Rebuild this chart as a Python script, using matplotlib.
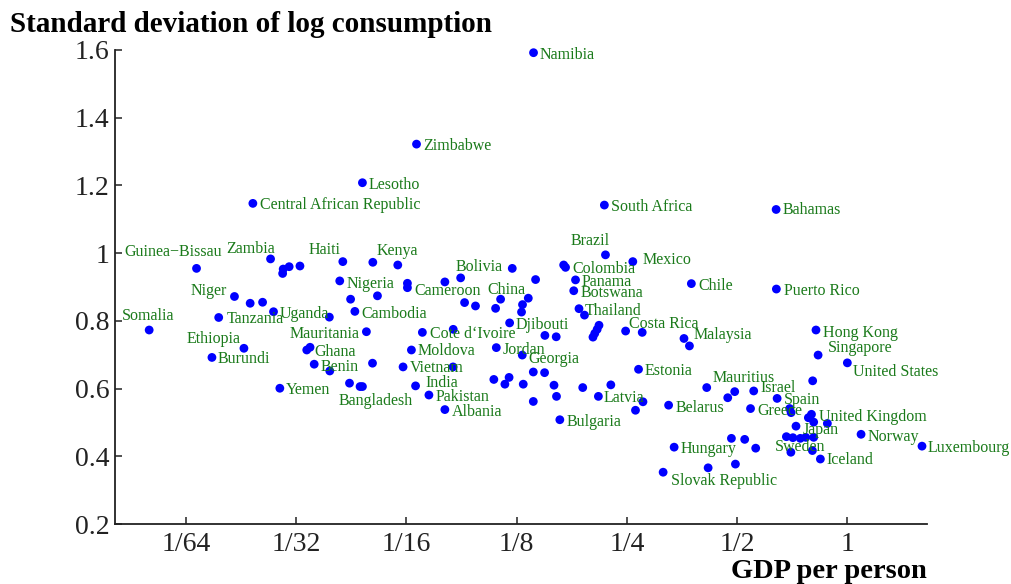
import matplotlib
matplotlib.use("Agg")
import matplotlib.pyplot as plt
from matplotlib.ticker import FixedLocator, FixedFormatter, NullLocator

plt.rcParams['font.family'] = ['Liberation Serif', 'DejaVu Serif']

# countries with a label, GDP per person relative to the US, std dev of log consumption
labeled = ["Namibia", "Zimbabwe", "Lesotho", "Central African Republic", "South Africa",
           "Bahamas", "Brazil", "Mexico", "Colombia", "Guinea\u2212Bissau", "Zambia", "Haiti",
           "Kenya", "Bolivia", "Panama", "Chile", "Puerto Rico", "Cameroon", "Nigeria",
           "Botswana", "China", "Niger", "Thailand", "Cambodia", "Uganda", "Tanzania",
           "Djibouti", "Costa Rica", "Hong Kong", "Somalia", "Mauritania", "Cote d\u2018Ivoire",
           "Malaysia", "Ethiopia", "Ghana", "Jordan", "Moldova", "Singapore", "Georgia",
           "Burundi", "United States", "Benin", "Vietnam", "Estonia", "India", "Mauritius",
           "Yemen", "Israel", "Bangladesh", "Pakistan", "Latvia", "Spain", "Belarus", "Greece",
           "Albania", "United Kingdom", "Bulgaria", "Japan", "Norway", "Luxembourg", "Hungary",
           "Sweden", "Iceland", "Slovak Republic"]
labeled_gdp = [0.139, 0.0666, 0.0474, 0.0238, 0.217,
               0.639, 0.2185, 0.2595, 0.168, 0.0167, 0.0266, 0.0419,
               0.0506, 0.0879, 0.181, 0.375, 0.640, 0.0629, 0.0411,
               0.179, 0.113, 0.0212, 0.185, 0.0452, 0.0271, 0.0192,
               0.1196, 0.248, 0.821, 0.0124, 0.0486, 0.0691,
               0.358, 0.0225, 0.0341, 0.110, 0.0645, 0.832, 0.1295,
               0.0184, 1.0, 0.0350, 0.0612, 0.269, 0.0662, 0.413,
               0.0282, 0.555, 0.0467, 0.0720, 0.209, 0.643, 0.325, 0.544,
               0.0796, 0.798, 0.164, 0.724, 1.090, 1.599, 0.3365,
               0.744, 0.844, 0.314]
labeled_sd = [1.592, 1.322, 1.208, 1.147, 1.142,
              1.129, 0.995, 0.975, 0.965, 0.955, 0.983, 0.975,
              0.973, 0.927, 0.921, 0.910, 0.894, 0.898, 0.918,
              0.889, 0.864, 0.872, 0.836, 0.828, 0.827, 0.810,
              0.794, 0.770, 0.773, 0.773, 0.768, 0.766,
              0.748, 0.719, 0.722, 0.721, 0.714, 0.699, 0.699,
              0.692, 0.676, 0.672, 0.664, 0.657, 0.608, 0.603,
              0.601, 0.593, 0.606, 0.581, 0.577, 0.571, 0.551, 0.541,
              0.538, 0.524, 0.508, 0.489, 0.465, 0.430, 0.427,
              0.453, 0.392, 0.353]

# countries drawn without a label
other_gdp = [0.170, 0.0288, 0.0287, 0.0299, 0.0320, 0.0592, 0.0796, 0.1216, 0.1408,
             0.0440, 0.0521, 0.0234, 0.0253, 0.0385, 0.0901, 0.0965, 0.1095, 0.1345,
             0.1297, 0.1289, 0.0839, 0.1493, 0.1603, 0.1915, 0.2098, 0.2074, 0.2043,
             0.2020, 0.2753, 0.0386, 0.0505, 0.0838, 0.1388, 0.1490, 0.1083, 0.1192,
             0.1161, 0.1303, 0.1581, 0.1894, 0.2260, 0.1388, 0.1606, 0.2639, 0.2766,
             0.8041, 0.4714, 0.4925, 0.6959, 0.7020, 0.7826, 0.8092, 0.8819, 0.6816,
             0.7100, 0.7700, 0.8092, 0.7011, 0.8026, 0.4824, 0.5244, 0.5620, 0.4167,
             0.4947, 0.0629, 0.0334, 0.0437, 0.0474, 0.3705]
other_sd = [0.958, 0.953, 0.940, 0.960, 0.962, 0.965, 0.915, 0.955, 0.922,
            0.864, 0.874, 0.852, 0.855, 0.811, 0.854, 0.844, 0.837, 0.867,
            0.848, 0.826, 0.775, 0.757, 0.753, 0.817, 0.787, 0.775, 0.763,
            0.752, 0.766, 0.652, 0.675, 0.664, 0.649, 0.647, 0.627, 0.633,
            0.613, 0.613, 0.610, 0.603, 0.611, 0.562, 0.577, 0.536, 0.561,
            0.623, 0.573, 0.591, 0.541, 0.529, 0.514, 0.501, 0.497, 0.458,
            0.455, 0.456, 0.456, 0.412, 0.417, 0.453, 0.450, 0.424, 0.366,
            0.377, 0.911, 0.714, 0.616, 0.606, 0.726]

x_ticks = [1/64, 1/32, 1/16, 1/8, 1/4, 1/2, 1]
x_ticklabels = ["1/64", "1/32", "1/16", "1/8", "1/4", "1/2", "1"]
y_ticks = [0.2, 0.4, 0.6, 0.8, 1.0, 1.2, 1.4, 1.6]
y_ticklabels = ["0.2", "0.4", "0.6", "0.8", "1", "1.2", "1.4", "1.6"]

# where each label's centre sits relative to its dot, in pixels
label_offsets = {
    "Namibia": (34, -2), "Zimbabwe": (41, -2), "Lesotho": (32, -2),
    "Central African Republic": (87, -2), "South Africa": (47, -2), "Bahamas": (36, -1),
    "Brazil": (-15, 14), "Mexico": (34, 2), "Colombia": (40, -4),
    "Guinea\u2212Bissau": (-23, 16), "Zambia": (-20, 10), "Haiti": (-18, 12),
    "Kenya": (25, 11), "Bolivia": (19, 11), "Panama": (31, -2), "Chile": (24, -2),
    "Puerto Rico": (45, -2), "Cameroon": (40, -3), "Nigeria": (31, -3),
    "Botswana": (38, -2), "China": (6, 9), "Niger": (-26, 5), "Thailand": (34, -2),
    "Cambodia": (39, -3), "Uganda": (31, -2), "Tanzania": (37, -2), "Djibouti": (33, -2),
    "Costa Rica": (38, 7), "Hong Kong": (44, -3), "Somalia": (-1, 14),
    "Mauritania": (-42, -2), "Cote d\u2018Ivoire": (50, -2), "Malaysia": (39, 3),
    "Ethiopia": (-30, 9), "Ghana": (25, -5), "Jordan": (28, -2), "Moldova": (35, -1),
    "Singapore": (42, 7), "Georgia": (32, -4), "Burundi": (32, -2),
    "United States": (48, -9), "Benin": (25, -3), "Vietnam": (34, -1),
    "Estonia": (30, -2), "India": (26, 3), "Mauritius": (37, 10), "Yemen": (28, -2),
    "Israel": (24, 3), "Bangladesh": (16, -14), "Pakistan": (34, -2), "Latvia": (26, -2),
    "Spain": (25, -2), "Belarus": (31, -3), "Greece": (29, -2), "Albania": (32, -2),
    "United Kingdom": (61, -3), "Bulgaria": (34, -2), "Japan": (25, -4),
    "Norway": (32, -3), "Luxembourg": (47, -2), "Hungary": (34, -2), "Sweden": (0, -9),
    "Iceland": (30, -1), "Slovak Republic": (61, -9),
}

fig = plt.figure(figsize=(10.12, 5.84), dpi=100)
ax = fig.add_axes([0.1136, 0.1027, 0.8024, 0.8117])

dot_color = "#0000ff"
ax.scatter(labeled_gdp + other_gdp, labeled_sd + other_sd, s=40, color=dot_color,
           edgecolors="none", zorder=3, clip_on=False)

for name, gx, gy in zip(labeled, labeled_gdp, labeled_sd):
    dx, dy = label_offsets[name]
    ax.annotate(name, (gx, gy), xytext=(dx, dy), textcoords="offset pixels",
                ha="center", va="center", fontsize=11.5, color="#1a7a1a",
                annotation_clip=False)

ax.set_xscale("log", base=2)
ax.set_xlim(0.01, 1.65)
ax.set_ylim(0.2, 1.6)
ax.xaxis.set_major_locator(FixedLocator(x_ticks))
ax.xaxis.set_major_formatter(FixedFormatter(x_ticklabels))
ax.xaxis.set_minor_locator(NullLocator())
ax.yaxis.set_major_locator(FixedLocator(y_ticks))
ax.yaxis.set_major_formatter(FixedFormatter(y_ticklabels))

for side in ["top", "right"]:
    ax.spines[side].set_visible(False)
for side in ["left", "bottom"]:
    ax.spines[side].set_linewidth(1.3)
    ax.spines[side].set_color("#222222")
ax.tick_params(axis="both", direction="in", length=5, width=1.1, labelsize=20,
               colors="#222222")
ax.tick_params(axis="x", pad=6)
ax.tick_params(axis="y", pad=4)

fig.text(10 / 1012, 1 - 32 / 584, "Standard deviation of log consumption",
         fontsize=21, fontweight="bold", ha="left", va="baseline")
fig.text(927 / 1012, 6 / 584, "GDP per person", fontsize=20.5, fontweight="bold",
         ha="right", va="baseline")

fig.savefig("out.png", dpi=100)
